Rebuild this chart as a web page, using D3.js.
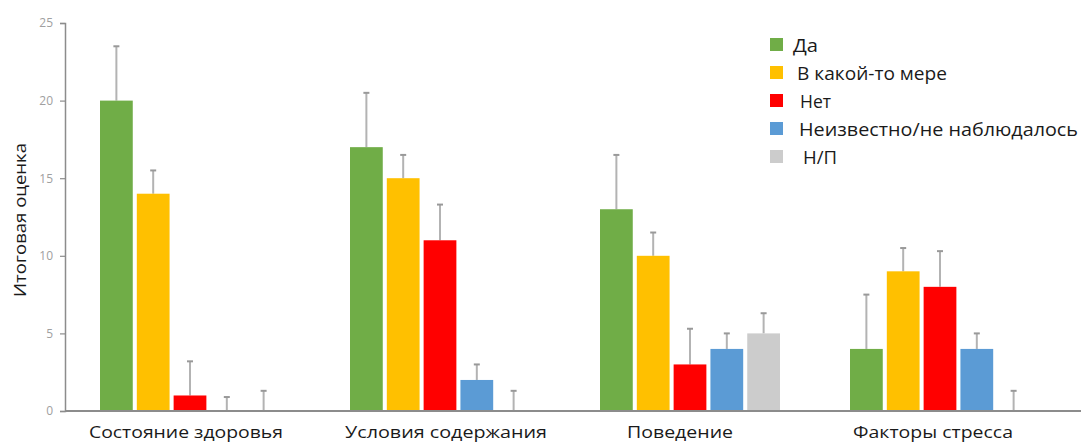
<!DOCTYPE html>
<html>
<head>
<meta charset="utf-8">
<script src="https://cdn.jsdelivr.net/npm/d3@7"></script>
<style>
  html, body { margin: 0; padding: 0; background: #fff; }
  svg { display: block; }
</style>
</head>
<body>
<svg id="chart" width="1081" height="443"></svg>
<script>
const categories = ["Состояние здоровья", "Условия содержания", "Поведение", "Факторы стресса"];
const seriesNames = ["Да", "В какой-то мере", "Нет", "Неизвестно/не наблюдалось", "Н/П"];
const seriesColors = ["#70AD47", "#FFC000", "#FF0000", "#5B9BD5", "#CCCCCC"];
// values per series, in category order
const valDa      = [20, 17, 13, 4];
const valMera    = [14, 15, 10, 9];
const valNet     = [1, 11, 3, 8];
const valUnknown = [0, 2, 4, 4];
const valNP      = [0, 0, 5, 0];
// upper error bar ends
const errDa      = [23.5, 20.5, 16.5, 7.5];
const errMera    = [15.5, 16.5, 11.5, 10.5];
const errNet     = [3.2, 13.3, 5.3, 10.3];
const errUnknown = [0.9, 3.0, 5.0, 5.0];
const errNP      = [1.3, 1.3, 6.3, 1.3];
const yTicks = [0, 5, 10, 15, 20, 25];

const values = [valDa, valMera, valNet, valUnknown, valNP];
const errs = [errDa, errMera, errNet, errUnknown, errNP];

// text styling (to mimic the wide source font and its label placement)
const xLabelWidths = [194, 202, 106, 160];
const xLabelShift = [-4, 6, -10, -7];
const legendWidths = [25, 150, 31, 279, 34];

const svg = d3.select("#chart");
const mLeft = 65, mRight = 1065, mTop = 23, mBottom = 411;
const FONT = "Open Sans, sans-serif";

const x0 = d3.scaleBand().domain(categories).range([mLeft, mRight]).paddingInner(0.28).paddingOuter(0.14);
const x1 = d3.scaleBand().domain(seriesNames).range([0, x0.bandwidth()]).paddingInner(0.11);
const y = d3.scaleLinear().domain([0, 25]).range([mBottom, mTop]);

const data = [];
categories.forEach((c, ci) => {
  seriesNames.forEach((s, si) => {
    data.push({c, s, si, v: values[si][ci], e: errs[si][ci]});
  });
});

// error bars (behind bars)
const eb = svg.append("g");
data.forEach(d => {
  const cx = x0(d.c) + x1(d.s) + x1.bandwidth() / 2;
  eb.append("line").attr("x1", cx).attr("x2", cx)
    .attr("y1", y(d.v)).attr("y2", y(d.e))
    .attr("stroke", "#b3b3b3").attr("stroke-width", 2);
  eb.append("line").attr("x1", cx - 3).attr("x2", cx + 3)
    .attr("y1", y(d.e)).attr("y2", y(d.e))
    .attr("stroke", "#999").attr("stroke-width", 2);
});

// bars
svg.append("g").selectAll("rect").data(data.filter(d => d.v > 0)).join("rect")
  .attr("x", d => x0(d.c) + x1(d.s))
  .attr("width", x1.bandwidth())
  .attr("y", d => y(d.v))
  .attr("height", d => y(0) - y(d.v))
  .attr("fill", d => seriesColors[d.si]);

// y axis
const yAxis = svg.append("g").attr("transform", `translate(${mLeft},0)`)
  .call(d3.axisLeft(y).tickValues(yTicks).tickSize(5).tickPadding(7));
yAxis.select(".domain").attr("stroke", "#8c8c8c").attr("stroke-width", 1.5);
yAxis.selectAll(".tick line").attr("stroke", "#8c8c8c").attr("stroke-width", 1.2);
yAxis.selectAll(".tick text").attr("fill", "#a0a0a0").attr("font-size", 12)
  .attr("font-family", FONT);

// x axis line
svg.append("line").attr("x1", mLeft).attr("x2", 1081).attr("y1", mBottom).attr("y2", mBottom)
  .attr("stroke", "#8c8c8c").attr("stroke-width", 2);

// x labels
svg.append("g").selectAll("text").data(categories).join("text")
  .attr("x", (d, i) => x0(d) + x0.bandwidth() / 2 + xLabelShift[i])
  .attr("y", 438)
  .attr("text-anchor", "middle")
  .attr("font-family", FONT)
  .attr("font-size", 16.5)
  .attr("textLength", (d, i) => xLabelWidths[i])
  .attr("lengthAdjust", "spacingAndGlyphs")
  .attr("fill", "#1a1a1a")
  .text(d => d);

// y title
svg.append("text")
  .attr("transform", `translate(26,${220}) rotate(-90)`)
  .attr("text-anchor", "middle")
  .attr("font-family", FONT)
  .attr("font-size", 16)
  .attr("textLength", 154)
  .attr("lengthAdjust", "spacingAndGlyphs")
  .attr("fill", "#1a1a1a")
  .text("Итоговая оценка");

// legend
const legX = 770, legY = 45, legStep = 28;
const textOffsets = [23, 27, 30, 29, 33];
const leg = svg.append("g");
seriesNames.forEach((s, i) => {
  const gy = legY + i * legStep;
  leg.append("rect").attr("x", legX).attr("y", gy - 7).attr("width", 13).attr("height", 13)
    .attr("fill", seriesColors[i]);
  leg.append("text").attr("x", legX + textOffsets[i]).attr("y", gy + 6.5)
    .attr("font-family", FONT).attr("font-size", 18)
    .attr("textLength", legendWidths[i])
    .attr("lengthAdjust", "spacingAndGlyphs")
    .attr("fill", "#1a1a1a").text(s);
});
</script>
</body>
</html>
